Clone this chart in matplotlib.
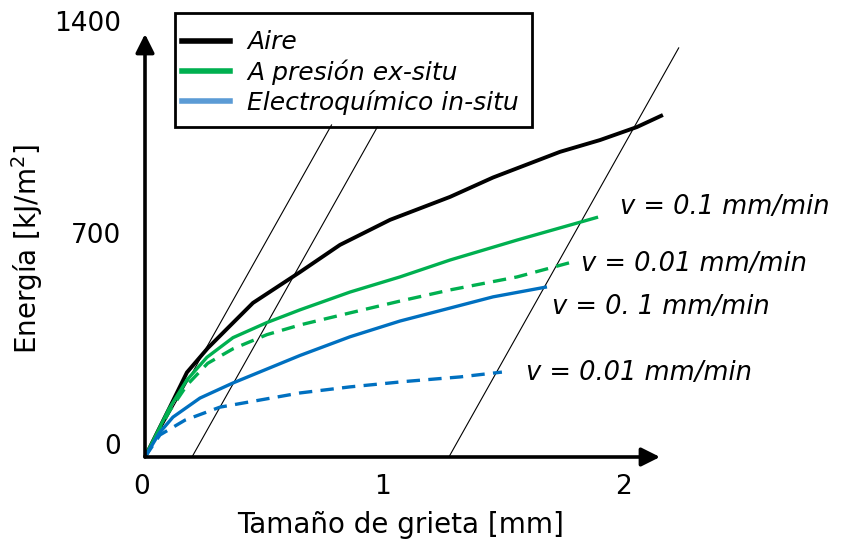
import numpy as np
import matplotlib.pyplot as plt
from matplotlib.patches import Rectangle

# curves (x in mm, y in kJ/m2)
aire_x = [0, 0.10, 0.174, 0.260, 0.340, 0.448, 0.643, 0.809, 1.017, 1.266, 1.444, 1.722, 1.888, 2.041, 2.149]
aire_y = [0, 160, 280, 360, 424, 510, 612, 702, 785, 861, 925, 1010, 1049, 1092, 1132]

pres_fast_x = [0, 0.10, 0.174, 0.257, 0.365, 0.506, 0.643, 0.851, 1.058, 1.266, 1.544, 1.880]
pres_fast_y = [0, 160, 255, 330, 395, 445, 487, 546, 596, 652, 718, 794]

pres_slow_x = [0, 0.10, 0.174, 0.260, 0.365, 0.506, 0.643, 0.851, 1.058, 1.266, 1.544, 1.776]
pres_slow_y = [0, 150, 238, 310, 358, 405, 437, 477, 516, 553, 596, 646]

elec_fast_x = [0, 0.060, 0.116, 0.228, 0.365, 0.643, 0.851, 1.058, 1.266, 1.444, 1.668]
elec_fast_y = [0, 80, 132, 195, 245, 336, 398, 450, 493, 530, 563]

elec_slow_x = [0, 0.062, 0.166, 0.311, 0.643, 0.85, 1.08, 1.307, 1.481]
elec_slow_y = [0, 73, 122, 165, 212, 232, 250, 265, 281]

# thin compliance lines: x-intercept and top y
comp_x0 = [0.0, 0.195, 1.261]
comp_ytop = [1099, 1092, 1354]
comp_slope = 1420

rate_labels = ['v = 0.1 mm/min', 'v = 0.01 mm/min', 'v = 0. 1 mm/min', 'v = 0.01 mm/min']
rate_pos = [(1.97, 828), (1.81, 640), (1.69, 498), (1.58, 278)]

legend_names = ['Aire', 'A presión ex-situ', 'Electroquímico in-situ']
legend_colors = ['black', '#00b050', '#5b9bd5']

black = 'black'
green = '#00b050'
blue = '#0070c0'

plt.rcParams['font.family'] = ['DejaVu Sans']

W, H = 841, 545
fig = plt.figure(figsize=(W / 100, H / 100), dpi=100)
ax = fig.add_axes([145 / W, 88 / H, 2.2 * 241 / W, 423 / H])
ax.set_xlim(0, 2.2)
ax.set_ylim(0, 1400)
ax.axis('off')

for x0, yt in zip(comp_x0, comp_ytop):
    ax.plot([x0, x0 + yt / comp_slope], [0, yt], color='black', lw=0.8, clip_on=False)

lw = 2.4
ax.plot(aire_x, aire_y, color=black, lw=lw + 0.4, clip_on=False, solid_capstyle='butt')
ax.plot(pres_fast_x, pres_fast_y, color=green, lw=lw, clip_on=False, solid_capstyle='butt')
ax.plot(pres_slow_x, pres_slow_y, color=green, lw=lw, ls=(0, (4, 2.5)), clip_on=False)
ax.plot(elec_fast_x, elec_fast_y, color=blue, lw=lw, clip_on=False, solid_capstyle='butt')
ax.plot(elec_slow_x, elec_slow_y, color=blue, lw=lw, ls=(0, (4, 2.5)), clip_on=False)

# axes with arrows
arrow = dict(arrowstyle='-|>', mutation_scale=28, lw=2.6, color='black', shrinkA=0, shrinkB=0)
ax.annotate('', xy=(2.137, 0), xytext=(0, 0), arrowprops=arrow, annotation_clip=False)
ax.annotate('', xy=(0, 1400), xytext=(0, 0), arrowprops=arrow, annotation_clip=False)

for lab, (x, y) in zip(rate_labels, rate_pos):
    ax.text(x, y, lab, fontsize=18.5, style='italic', va='center', ha='left')

for v, s in zip([0, 1, 2], ['0', '1', '2']):
    ax.text(v - 0.015, -55, s, fontsize=19, ha='center', va='top')
for v, s in zip([0, 700, 1400], ['0', '700', '1400']):
    ax.text(-0.1, v + 32, s, fontsize=19, ha='right', va='center')

ax.text(1.06, -225, 'Tamaño de grieta [mm]', fontsize=20, ha='center', va='center')
ax.text(-0.49, 690, 'Energía [kJ/m$^2$]', fontsize=20, ha='center', va='center', rotation=90)

# legend with a hand-placed frame
handles = [plt.Line2D([], [], color=c, lw=4) for c in legend_colors]
leg = fig.legend(handles, legend_names, loc='upper left',
                 bbox_to_anchor=(176 / W, 1 - 24 / H), bbox_transform=fig.transFigure,
                 prop={'size': 18, 'style': 'italic'}, frameon=False,
                 handlelength=1.9, labelspacing=0.2, borderpad=0.25,
                 handletextpad=0.7, borderaxespad=0)
fig.patches.append(Rectangle((175 / W, 1 - 127 / H), 357 / W, 114 / H, transform=fig.transFigure,
                             fill=False, edgecolor='black', lw=2))

fig.savefig('out.png', dpi=100)
